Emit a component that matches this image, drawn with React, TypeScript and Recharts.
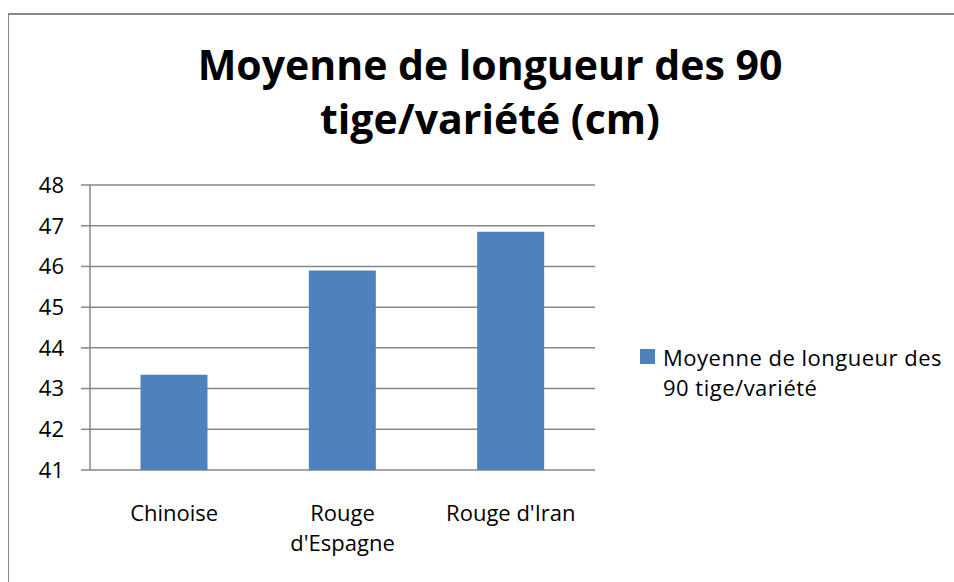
import React from "react";
import { BarChart, Bar, XAxis, YAxis, CartesianGrid } from "recharts";

const categories = ["Chinoise", "Rouge d'Espagne", "Rouge d'Iran"];
const categoryTickLines = [["Chinoise"], ["Rouge", "d'Espagne"], ["Rouge d'Iran"]];
const moyenneValues = [43.34, 45.9, 46.85];
const yTicks = [41, 42, 43, 44, 45, 46, 47, 48];
const boundaryTicks = [0, 1, 2, 3];
const seriesName = "Moyenne de longueur des 90 tige/variété";
const titleLines = ["Moyenne de longueur des 90", "tige/variété (cm)"];

const data = categories.map((c, i) => ({ name: c, value: moyenneValues[i] }));

const FONT = "'Open Sans', 'Noto Sans', sans-serif";
const GRAY = "#878787";
const BLUE = "#4f81bd";

const CatTick = (props: any) => {
  const { x, y, payload } = props;
  const idx = categories.indexOf(payload.value);
  const lines = idx >= 0 ? categoryTickLines[idx] : [String(payload.value)];
  return (
    <text x={x} y={y + 51} textAnchor="middle" fontSize={22} fontFamily={FONT} fill="#000">
      {lines.map((l, i) => (
        <tspan key={i} x={x} dy={i === 0 ? 0 : 30}>
          {l}
        </tspan>
      ))}
    </text>
  );
};

const EmptyTick = () => <g />;

export default function App() {
  return (
    <div
      style={{
        position: "fixed",
        left: 8,
        top: 8,
        width: 946,
        height: 574,
        overflow: "hidden",
        background: "#fff",
      }}
    >
      <div
        style={{
          position: "absolute",
          left: -1,
          top: 5,
          width: 1200,
          height: 1200,
          borderLeft: `2px solid ${GRAY}`,
          borderTop: `2px solid ${GRAY}`,
          boxSizing: "border-box",
        }}
      />
      <div
        style={{
          position: "absolute",
          left: 0,
          top: 29,
          width: 964,
          textAlign: "center",
          fontFamily: FONT,
          fontWeight: 700,
          fontSize: 41,
          lineHeight: "54px",
          color: "#000",
        }}
      >
        {titleLines.map((l, i) => (
          <div key={i}>{l}</div>
        ))}
      </div>
      <div style={{ position: "absolute", left: 0, top: 0 }}>
        <BarChart
          width={946}
          height={574}
          data={data}
          margin={{ top: 177, right: 359, bottom: 52, left: 22 }}
          barCategoryGap="30%"
        >
          <CartesianGrid horizontal vertical={false} stroke={GRAY} strokeWidth={1.5} />
          <XAxis
            xAxisId="num"
            type="number"
            domain={[0, 3]}
            ticks={boundaryTicks}
            height={0}
            tick={EmptyTick}
            tickSize={8}
            axisLine={{ stroke: GRAY, strokeWidth: 1.5 }}
            tickLine={{ stroke: GRAY, strokeWidth: 1.5 }}
            allowDataOverflow
          />
          <XAxis
            dataKey="name"
            height={60}
            tickLine={false}
            axisLine={false}
            tickSize={0}
            tickMargin={0}
            tick={CatTick}
            interval={0}
          />
          <YAxis
            width={60}
            domain={[41, 48]}
            ticks={yTicks}
            interval={0}
            allowDataOverflow
            tickSize={9}
            tickMargin={17}
            axisLine={{ stroke: GRAY, strokeWidth: 1.5 }}
            tickLine={{ stroke: GRAY, strokeWidth: 1.5 }}
            tick={{ fontSize: 22, fontFamily: FONT, fill: "#000" }}
          />
          <Bar dataKey="value" name={seriesName} fill={BLUE} isAnimationActive={false} />
        </BarChart>
      </div>
      <div style={{ position: "absolute", left: 632, top: 341, width: 15, height: 15, background: BLUE }} />
      <div
        style={{
          position: "absolute",
          left: 655,
          top: 333.5,
          width: 290,
          fontFamily: FONT,
          fontSize: 22,
          letterSpacing: 0.5,
          lineHeight: "30px",
          color: "#000",
        }}
      >
        {seriesName}
      </div>
    </div>
  );
}
